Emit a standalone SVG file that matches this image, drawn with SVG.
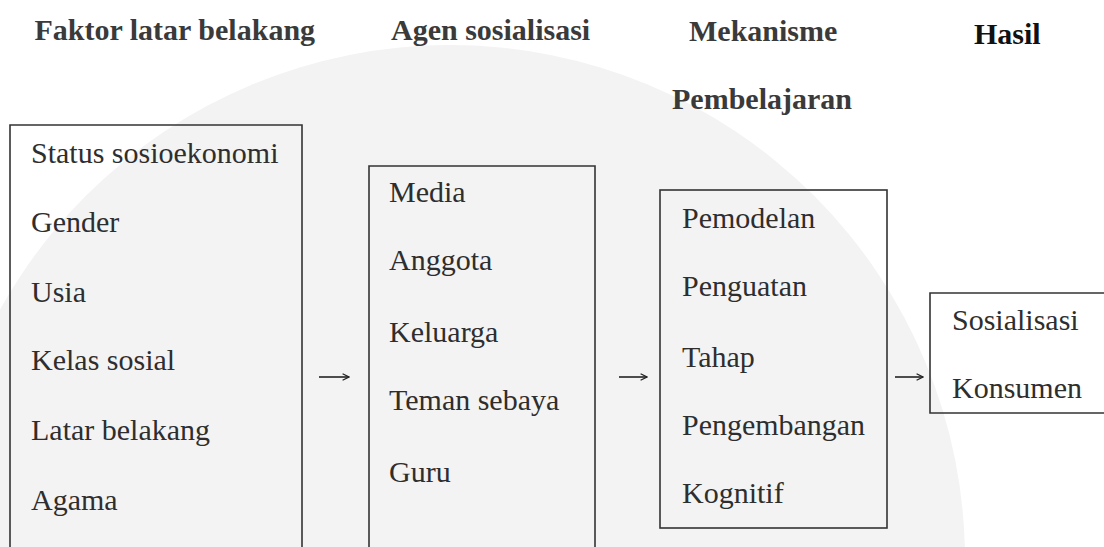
<svg xmlns="http://www.w3.org/2000/svg" width="1104" height="547" viewBox="0 0 1104 547">
  <defs>
    <style>
      .hdr { font-family: 'Liberation Serif', 'DejaVu Serif', serif; font-size: 30px; font-weight: bold; fill: #3a3a3a; }
      .txt { font-family: 'Liberation Serif', 'DejaVu Serif', serif; font-size: 30px; fill: #2e2e2e; }
      .box { fill: none; stroke: #333333; stroke-width: 1.6; }
      .conn { fill: none; stroke: #222222; stroke-width: 1.6; }
    </style>
    <marker id="arrow" viewBox="0 0 10 10" refX="9" refY="5" markerWidth="8" markerHeight="8" markerUnits="userSpaceOnUse" orient="auto">
      <path d="M1,1 L9,5 L1,9" fill="none" stroke="#222222" stroke-width="1.6"/>
    </marker>
  </defs>

  <rect x="0" y="0" width="1104" height="547" fill="#ffffff"/>
  <g id="watermark">
    <circle cx="450" cy="560" r="515" fill="#f3f3f3"/>
  </g>

  <g id="headers" font-family="Liberation Serif, serif">
    <text class="hdr" x="34.5" y="40">Faktor latar belakang</text>
    <text class="hdr" x="391" y="40">Agen sosialisasi</text>
    <text class="hdr" x="689" y="41">Mekanisme</text>
    <text class="hdr" x="672" y="109">Pembelajaran</text>
    <text class="hdr" x="974" y="44" style="fill:#111111">Hasil</text>
  </g>

  <g id="node-faktor" font-family="Liberation Serif, serif">
    <path class="box" d="M10,548 V125 H302 V548"/>
    <text class="txt" x="31" y="163">Status sosioekonomi</text>
    <text class="txt" x="31" y="232">Gender</text>
    <text class="txt" x="31" y="302">Usia</text>
    <text class="txt" x="31" y="370">Kelas sosial</text>
    <text class="txt" x="31" y="440">Latar belakang</text>
    <text class="txt" x="31" y="510">Agama</text>
  </g>

  <g id="node-agen" font-family="Liberation Serif, serif">
    <path class="box" d="M369,548 V166 H595 V548"/>
    <text class="txt" x="389" y="202">Media</text>
    <text class="txt" x="389" y="270">Anggota</text>
    <text class="txt" x="389" y="342">Keluarga</text>
    <text class="txt" x="389" y="410">Teman sebaya</text>
    <text class="txt" x="389" y="482">Guru</text>
  </g>

  <g id="node-mekanisme" font-family="Liberation Serif, serif">
    <rect class="box" x="660" y="190" width="227" height="338"/>
    <text class="txt" x="682" y="228">Pemodelan</text>
    <text class="txt" x="682" y="296">Penguatan</text>
    <text class="txt" x="682" y="367">Tahap</text>
    <text class="txt" x="682" y="435" textLength="183" lengthAdjust="spacingAndGlyphs">Pengembangan</text>
    <text class="txt" x="682" y="503">Kognitif</text>
  </g>

  <g id="node-hasil" font-family="Liberation Serif, serif">
    <path class="box" d="M1105,293 H930 V413 H1105"/>
    <text class="txt" x="952" y="330">Sosialisasi</text>
    <text class="txt" x="952" y="398">Konsumen</text>
  </g>

  <g id="connectors">
    <path class="conn" d="M319,377 H349" marker-end="url(#arrow)"/>
    <path class="conn" d="M619,377 H647" marker-end="url(#arrow)"/>
    <path class="conn" d="M895,377 H923" marker-end="url(#arrow)"/>
  </g>
</svg>
